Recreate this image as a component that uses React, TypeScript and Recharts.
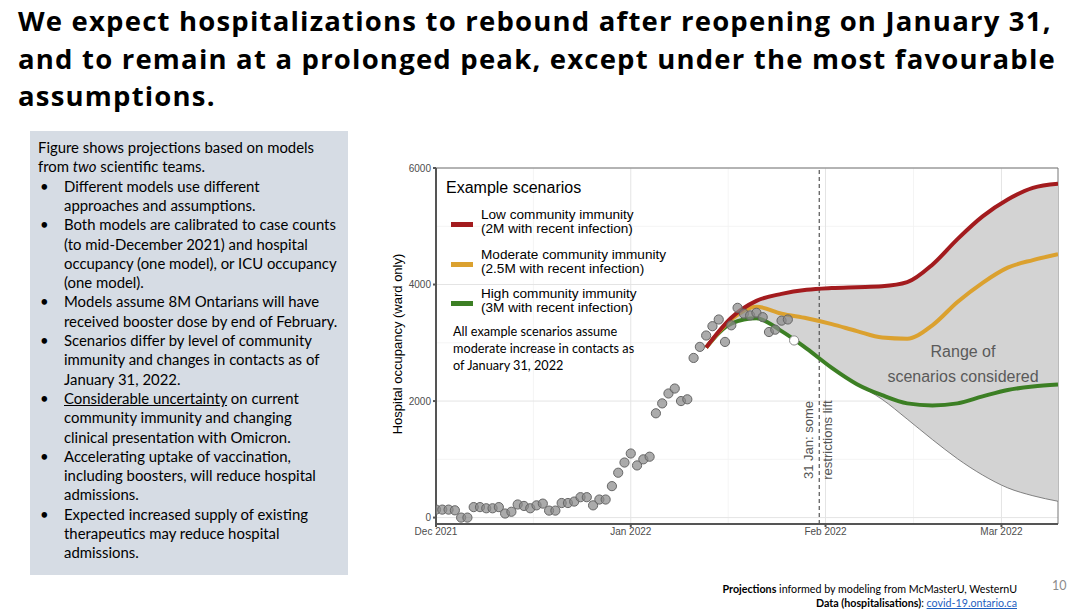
import React from "react";
import {
  ComposedChart,
  Line,
  Area,
  Scatter,
  XAxis,
  YAxis,
  CartesianGrid,
  ReferenceLine,
  ReferenceArea,
} from "recharts";

// x axis is "days since Dec 1, 2021"
const monthTicks = [0, 31, 62, 90];
const monthLabels = ["Dec 2021", "Jan 2022", "Feb 2022", "Mar 2022"];
const monthMidpoints = [15.5, 46.5, 76];
const occupancyTicks = [0, 2000, 4000, 6000];
const occupancyMinor = [1000, 3000, 5000];

// daily hospital occupancy (ward), Dec 1 onwards
const observed = [
  137, 137, 137, 125, 0, 0, 180, 180, 160, 160, 180, 70, 100, 225, 200, 160, 210, 240, 120, 120,
  250, 250, 275, 350, 350, 210, 310, 310, 540, 770, 945, 1100, 895, 1000, 1045, 1790, 1960, 2130,
  2215, 2000, 2030, 2740, 2930, 3125, 3285, 3400, 3015, 3300, 3600, 3500, 3470, 3515, 3440, 3185,
  3225, 3380, 3400,
];
const provisionalDays = [57];
const provisional = [3040];

// scenario projections
const projectionDays = [43, 47, 51, 55, 59, 63, 67, 71, 75, 79, 83, 87, 91, 95, 99];
const lowImmunity = [2920, 3430, 3720, 3840, 3910, 3940, 3955, 3970, 4040, 4340, 4780, 5170, 5460, 5660, 5730];
const moderateImmunity = [2920, 3400, 3620, 3500, 3420, 3320, 3200, 3090, 3070, 3300, 3700, 4030, 4290, 4420, 4520];
const highImmunity = [2920, 3330, 3420, 3200, 2900, 2570, 2290, 2100, 1960, 1925, 1960, 2080, 2190, 2250, 2285];
const rangeLower = [2920, 3330, 3420, 3200, 2900, 2570, 2290, 2030, 1690, 1340, 1010, 730, 510, 375, 280];

const reopeningDay = 61;

const observedRows = observed.map((value, day) => ({ day, value }));
const provisionalRows = provisionalDays.map((day, i) => ({ day, value: provisional[i] }));
const toRows = (vals: number[]) => projectionDays.map((day, i) => ({ day, value: vals[i] }));
const rangeRows = projectionDays.map((day, i) => ({ day, value: [rangeLower[i], lowImmunity[i]] }));

const RED = "#A31B1E";
const GOLD = "#DBA12F";
const GREEN = "#3C7F24";

const chartFont = '"Liberation Sans", Arial, sans-serif';
const slideFont = 'Lato, "Open Sans", sans-serif';

const titleLines = [
  "We expect hospitalizations to rebound after reopening on January 31,",
  "and to remain at a prolonged peak, except under the most favourable",
  "assumptions.",
];

const legendItems = [
  { color: RED, top: "Low community immunity", bottom: "(2M with recent infection)", y: 224 },
  { color: GOLD, top: "Moderate community immunity", bottom: "(2.5M with recent infection)", y: 264 },
  { color: GREEN, top: "High community immunity", bottom: "(3M with recent infection)", y: 303 },
];

type BoxLine = { text: React.ReactNode; bullet?: boolean; indent?: boolean };
const boxLines: BoxLine[] = [
  { text: "Figure shows projections based on models" },
  { text: <>from <i>two</i> scientific teams.</> },
  { text: "Different models use different", bullet: true },
  { text: "approaches and assumptions.", indent: true },
  { text: "Both models are calibrated to case counts", bullet: true },
  { text: "(to mid-December 2021) and hospital", indent: true },
  { text: "occupancy (one model), or ICU occupancy", indent: true },
  { text: "(one model).", indent: true },
  { text: "Models assume 8M Ontarians will have", bullet: true },
  { text: "received booster dose by end of February.", indent: true },
  { text: "Scenarios differ by level of community", bullet: true },
  { text: "immunity and changes in contacts as of", indent: true },
  { text: "January 31, 2022.", indent: true },
  { text: <><u>Considerable uncertainty</u> on current</>, bullet: true },
  { text: "community immunity and changing", indent: true },
  { text: "clinical presentation with Omicron.", indent: true },
  { text: "Accelerating uptake of vaccination,", bullet: true },
  { text: "including boosters, will reduce hospital", indent: true },
  { text: "admissions.", indent: true },
  { text: "Expected increased supply of existing", bullet: true },
  { text: "therapeutics may reduce hospital", indent: true },
  { text: "admissions.", indent: true },
];

const abs = (left: number, top: number, extra: React.CSSProperties = {}): React.CSSProperties => ({
  position: "absolute",
  left,
  top,
  whiteSpace: "nowrap",
  ...extra,
});

const Dot = (props: any) => (
  <circle cx={props.cx} cy={props.cy} r={4.6} fill="#8a8a8a" fillOpacity={0.72} stroke="#666" strokeWidth={1} />
);
const HollowDot = (props: any) => (
  <circle cx={props.cx} cy={props.cy} r={4.6} fill="#ffffff" stroke="#8a8a8a" strokeWidth={1} />
);

export default function App() {
  return (
    <div style={{ position: "absolute", left: 0, top: 0, width: 1080, height: 611, background: "#fff", overflow: "hidden" }}>
      {/* title */}
      <div
        style={abs(18, 2, {
          fontFamily: '"Open Sans", Lato, sans-serif',
          fontWeight: 700,
          fontSize: 27.5,
          letterSpacing: 1.2,
          lineHeight: "37.5px",
          color: "#000",
        })}
      >
        {titleLines.map((t, i) => (
          <div key={i}>{t}</div>
        ))}
      </div>

      {/* left text box */}
      <div style={abs(30, 131, { width: 318, height: 444, background: "#d6dce4" })} />
      {boxLines.map((l, i) => (
        <div key={i} style={abs(0, 138 + i * 19.3, { fontFamily: slideFont, fontSize: 14.9, lineHeight: "19.3px", color: "#000" })}>
          {l.bullet && <span style={{ position: "absolute", left: 40 }}>•</span>}
          <span style={{ position: "absolute", left: l.bullet || l.indent ? 64 : 38 }}>{l.text}</span>
        </div>
      ))}

      {/* chart */}
      <div style={abs(380, 150)}>
        <ComposedChart width={690} height={400} margin={{ top: 18, right: 12, bottom: 0, left: 0 }}>
          <CartesianGrid horizontalValues={occupancyMinor} verticalValues={monthMidpoints} stroke="#f1f1f1" strokeWidth={0.8} />
          <CartesianGrid horizontalValues={occupancyTicks} verticalValues={monthTicks} stroke="#e4e4e4" strokeWidth={1} />
          <XAxis
            type="number"
            dataKey="day"
            domain={[0, 99]}
            ticks={monthTicks}
            interval={0}
            allowDataOverflow
            tickFormatter={(v: number) => monthLabels[monthTicks.indexOf(v)]}
            height={26}
            tickSize={3}
            tickMargin={1}
            stroke="#555"
            strokeWidth={2}
            tick={{ fontSize: 10, fill: "#4d4d4d", fontFamily: chartFont }}
          />
          <YAxis
            type="number"
            dataKey="value"
            domain={[-110, 6000]}
            ticks={occupancyTicks}
            interval={0}
            allowDataOverflow
            width={56}
            tickSize={3}
            tickMargin={2}
            stroke="#555"
            strokeWidth={2}
            tick={{ fontSize: 10, fill: "#4d4d4d", fontFamily: chartFont }}
          />
          <ReferenceArea x1={0} x2={99} y1={-110} y2={6000} fill="none" stroke="#777" strokeWidth={1} />
          <Area
            data={rangeRows}
            dataKey="value"
            type="monotone"
            fill="#d3d3d3"
            fillOpacity={1}
            stroke="#666"
            strokeWidth={0.8}
            isAnimationActive={false}
          />
          <Scatter data={observedRows} dataKey="value" shape={Dot} isAnimationActive={false} />
          <Scatter data={provisionalRows} dataKey="value" shape={HollowDot} isAnimationActive={false} />
          <ReferenceLine x={reopeningDay} stroke="#555" strokeDasharray="4 3" strokeWidth={1.2} />
          <Line data={toRows(highImmunity)} dataKey="value" type="monotone" stroke={GREEN} strokeWidth={4} dot={false} isAnimationActive={false} />
          <Line data={toRows(moderateImmunity)} dataKey="value" type="monotone" stroke={GOLD} strokeWidth={4} dot={false} isAnimationActive={false} />
          <Line data={toRows(lowImmunity)} dataKey="value" type="monotone" stroke={RED} strokeWidth={4} dot={false} isAnimationActive={false} />
        </ComposedChart>
      </div>

      {/* y axis title */}
      <div
        style={abs(397, 344, {
          transform: "translate(-50%, -50%) rotate(-90deg)",
          fontFamily: chartFont,
          fontSize: 13,
          color: "#000",
        })}
      >
        Hospital occupancy (ward only)
      </div>

      {/* legend */}
      <div style={abs(446, 178, { fontFamily: chartFont, fontSize: 16, lineHeight: "19px", color: "#000" })}>Example scenarios</div>
      {legendItems.map((it) => (
        <React.Fragment key={it.top}>
          <div style={abs(451, it.y - 2.5, { width: 22, height: 5, background: it.color })} />
          <div style={abs(481, it.y - 16, { fontFamily: chartFont, fontSize: 13.6, lineHeight: "14px", color: "#000" })}>
            <div>{it.top}</div>
            <div>{it.bottom}</div>
          </div>
        </React.Fragment>
      ))}
      <div style={abs(453, 323, { fontFamily: slideFont, fontSize: 12.7, lineHeight: "17px", color: "#000" })}>
        <div>All example scenarios assume</div>
        <div>moderate increase in contacts as</div>
        <div>of January 31, 2022</div>
      </div>

      {/* range annotation */}
      <div style={abs(963, 339, { transform: "translateX(-50%)", textAlign: "center", fontFamily: chartFont, fontSize: 16, lineHeight: "25px", color: "#5a5a5a" })}>
        <div>Range of</div>
        <div>scenarios considered</div>
      </div>

      {/* reopening annotation */}
      <div style={abs(808, 440, { transform: "translate(-50%, -50%) rotate(-90deg)", fontFamily: chartFont, fontSize: 13, color: "#555" })}>
        31 Jan: some
      </div>
      <div style={abs(827, 440, { transform: "translate(-50%, -50%) rotate(-90deg)", fontFamily: chartFont, fontSize: 13, color: "#555" })}>
        restrictions lift
      </div>

      {/* footer */}
      <div style={abs(0, 582, { right: 63, left: "auto", textAlign: "right", fontFamily: slideFont, fontSize: 10.7, lineHeight: "14px", color: "#000" })}>
        <div>
          <b>Projections</b> informed by modeling from McMasterU, WesternU
        </div>
        <div>
          <b>Data (hospitalisations)</b>: <span style={{ color: "#1f5fbf", textDecoration: "underline" }}>covid-19.ontario.ca</span>
        </div>
      </div>
      <div style={abs(1052, 578, { fontFamily: slideFont, fontSize: 12.5, color: "#8c8c8c" })}>10</div>
    </div>
  );
}
